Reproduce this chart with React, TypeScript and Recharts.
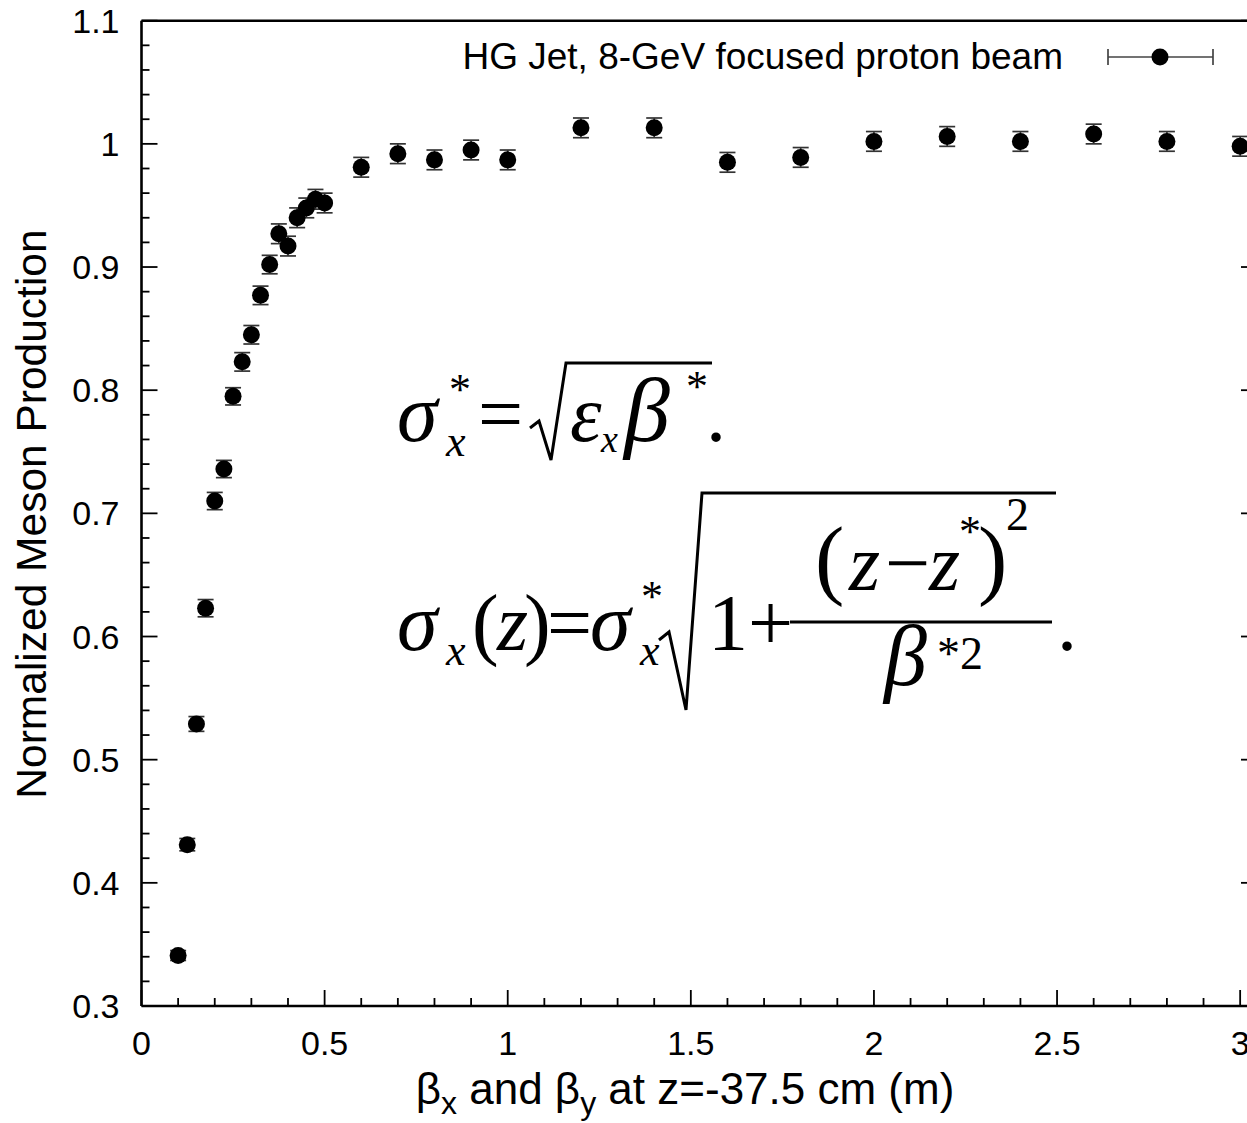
import { ScatterChart, Scatter, XAxis, YAxis, ErrorBar } from 'recharts'

// beta (m) at z = -37.5 cm
const betaValues = [
  0.1, 0.125, 0.15, 0.175, 0.2, 0.225, 0.25, 0.275, 0.3, 0.325, 0.35, 0.375, 0.4, 0.425, 0.45, 0.475, 0.5,
  0.6, 0.7, 0.8, 0.9, 1.0,
  1.2, 1.4, 1.6, 1.8, 2.0, 2.2, 2.4, 2.6, 2.8, 3.0,
]
const mesonYield = [
  0.341, 0.431, 0.529, 0.623, 0.71, 0.736, 0.795, 0.823, 0.845, 0.877, 0.902, 0.927, 0.917, 0.94, 0.948, 0.955, 0.952,
  0.981, 0.992, 0.987, 0.995, 0.987,
  1.013, 1.013, 0.985, 0.989, 1.002, 1.006, 1.002, 1.008, 1.002, 0.998,
]
const yieldErr = [
  0.004, 0.005, 0.006, 0.007, 0.007, 0.007, 0.007, 0.0075, 0.0075, 0.0075, 0.0075, 0.008, 0.008, 0.008, 0.008, 0.008, 0.008,
  0.008, 0.008, 0.008, 0.008, 0.008,
  0.008, 0.008, 0.008, 0.008, 0.008, 0.008, 0.008, 0.008, 0.008, 0.008,
]

const xMajor = [0, 0.5, 1, 1.5, 2, 2.5, 3]
const yMajor = [0.3, 0.4, 0.5, 0.6, 0.7, 0.8, 0.9, 1, 1.1]
const xLabels = ['0', '0.5', '1', '1.5', '2', '2.5', '3']
const yLabels = ['0.3', '0.4', '0.5', '0.6', '0.7', '0.8', '0.9', '1', '1.1']
const legendText = 'HG Jet, 8-GeV focused proton beam'

const SUB = 5
const withMinor = (major: number[]) => {
  const out: number[] = []
  major.forEach((v, i) => {
    out.push(v)
    if (i < major.length - 1) {
      const step = (major[i + 1] - v) / SUB
      for (let k = 1; k < SUB; k++) out.push(+(v + step * k).toFixed(4))
    }
  })
  return out
}
const xTicks = withMinor(xMajor)
const yTicks = withMinor(yMajor)

const data = betaValues.map((b, i) => ({ beta: b, y: mesonYield[i], err: yieldErr[i] }))

const SANS = '"Liberation Sans", Arial, Helvetica, sans-serif'
const SERIF = '"Liberation Serif", "Times New Roman", serif'
const MAJ = 16
const MIN = 8
const TK = 1.8

// plot box
const PL = 141.5
const PT = 20.7
const PB = 1006
const PR = 1257

const majorIdx = (list: number[], v: number) => list.findIndex((m) => Math.abs(m - v) < 1e-6)

const BottomTick = (p: any) => {
  const i = majorIdx(xMajor, p.payload.value)
  return (
    <g>
      <line x1={p.x} x2={p.x} y1={PB} y2={PB - (i >= 0 ? MAJ : MIN)} stroke="#000" strokeWidth={TK} />
      {i >= 0 && (
        <text x={p.x} y={PB + 49} textAnchor="middle" fontSize={34} fontFamily={SANS} fill="#000">
          {xLabels[i]}
        </text>
      )}
    </g>
  )
}
const TopTick = (p: any) => {
  const i = majorIdx(xMajor, p.payload.value)
  return <line x1={p.x} x2={p.x} y1={PT} y2={PT + (i >= 0 ? MAJ : MIN)} stroke="#000" strokeWidth={TK} />
}
const LeftTick = (p: any) => {
  const i = majorIdx(yMajor, p.payload.value)
  return (
    <g>
      <line x1={PL} x2={PL + (i >= 0 ? MAJ : MIN)} y1={p.y} y2={p.y} stroke="#000" strokeWidth={TK} />
      {i >= 0 && (
        <text x={PL - 22} y={p.y + 12} textAnchor="end" fontSize={34} fontFamily={SANS} fill="#000">
          {yLabels[i]}
        </text>
      )}
    </g>
  )
}
const RightTick = (p: any) => {
  const i = majorIdx(yMajor, p.payload.value)
  return <line x1={PR} x2={PR - (i >= 0 ? MAJ : MIN)} y1={p.y} y2={p.y} stroke="#000" strokeWidth={TK} />
}

const Dot = (p: any) => <circle cx={p.cx} cy={p.cy} r={8.5} fill="#000" />

const T = ({ x, y, s, it, f = SERIF, children }: any) => (
  <text x={x} y={y} fontSize={s} fontStyle={it ? 'italic' : 'normal'} fontFamily={f} fill="#000">
    {children}
  </text>
)

function Formulas() {
  return (
    <g>
      {/* sigma_x^* = sqrt(eps_x beta^*) */}
      <T x={397} y={441} s={82} it>σ</T>
      <T x={449} y={404} s={44}>*</T>
      <T x={446} y={456} s={44} it>x</T>
      <T x={478} y={441} s={80}>=</T>
      <path d="M530 428 L539 421 L551 460 L566 363 L712 363" fill="none" stroke="#000" strokeWidth={3} />
      <T x={570} y={441} s={80} it>ε</T>
      <T x={601} y={452} s={38} it>x</T>
      <T x={624} y={441} s={92} it>β</T>
      <T x={686} y={401} s={44}>*</T>
      <T x={706} y={441} s={80}>.</T>

      {/* sigma_x(z) = sigma_x^* sqrt(1 + (z - z^*)^2 / beta^*2) */}
      <T x={397} y={650} s={82} it>σ</T>
      <T x={446} y={665} s={44} it>x</T>
      <T x={472} y={650} s={80}>(</T>
      <T x={497} y={650} s={80} it>z</T>
      <T x={524} y={650} s={80}>)</T>
      <T x={547} y={650} s={80}>=</T>
      <T x={590} y={650} s={82} it>σ</T>
      <T x={641} y={611} s={44}>*</T>
      <T x={640} y={665} s={44} it>x</T>
      <path d="M659 640 L669 632 L686 710 L702 493 L1056 493" fill="none" stroke="#000" strokeWidth={3} />
      <T x={708} y={650} s={80}>1</T>
      <T x={748} y={650} s={80}>+</T>
      <line x1={790} x2={1052} y1={622} y2={622} stroke="#000" strokeWidth={3} />
      <T x={815} y={588} s={88}>(</T>
      <T x={849} y={590} s={80} it>z</T>
      <T x={885} y={590} s={80}>−</T>
      <T x={929} y={590} s={80} it>z</T>
      <T x={959} y={546} s={44}>*</T>
      <T x={978} y={588} s={88}>)</T>
      <T x={1006} y={530} s={46}>2</T>
      <T x={884} y={685} s={86} it>β</T>
      <T x={937} y={669} s={46}>*2</T>
      <T x={1057} y={650} s={80}>.</T>
    </g>
  )
}

const axisLine = { stroke: '#000', strokeWidth: 2.6 }

export default function App() {
  return (
    <div style={{ position: 'absolute', left: 0, top: 0, width: 1247, height: 1123, overflow: 'hidden', background: '#fff' }}>
      <ScatterChart width={1265} height={1123} margin={{ top: 19.7, right: 7, bottom: 116, left: 140.5 }}>
        <XAxis
          xAxisId="b"
          type="number"
          dataKey="beta"
          orientation="bottom"
          domain={[0, 3.046]}
          ticks={xTicks}
          interval={0}
          height={1}
          tickSize={0}
          tickMargin={0}
          tickLine={false}
          tick={BottomTick}
          axisLine={axisLine}
          allowDataOverflow
        />
        <XAxis
          xAxisId="t"
          type="number"
          orientation="top"
          domain={[0, 3.046]}
          ticks={xTicks}
          interval={0}
          height={1}
          tickSize={0}
          tickMargin={0}
          tickLine={false}
          tick={TopTick}
          axisLine={axisLine}
          allowDataOverflow
        />
        <YAxis
          yAxisId="l"
          type="number"
          dataKey="y"
          orientation="left"
          domain={[0.3, 1.1]}
          ticks={yTicks}
          interval={0}
          width={1}
          tickSize={0}
          tickMargin={0}
          tickLine={false}
          tick={LeftTick}
          axisLine={axisLine}
          allowDataOverflow
        />
        <YAxis
          yAxisId="r"
          type="number"
          orientation="right"
          domain={[0.3, 1.1]}
          ticks={yTicks}
          interval={0}
          width={1}
          tickSize={0}
          tickMargin={0}
          tickLine={false}
          tick={RightTick}
          axisLine={axisLine}
          allowDataOverflow
        />
        <Scatter data={data} xAxisId="b" yAxisId="l" shape={Dot} isAnimationActive={false}>
          <ErrorBar dataKey="err" direction="y" width={8} stroke="#333" strokeWidth={1.7} />
        </Scatter>
      </ScatterChart>
      <svg width={1247} height={1123} style={{ position: 'absolute', left: 0, top: 0, pointerEvents: 'none' }}>
        <text x={1063} y={69} textAnchor="end" fontSize={37} fontFamily={SANS} fill="#000">
          {legendText}
        </text>
        <line x1={1108} x2={1213} y1={57} y2={57} stroke="#444" strokeWidth={1.7} />
        <line x1={1108} x2={1108} y1={49} y2={65} stroke="#444" strokeWidth={1.7} />
        <line x1={1213} x2={1213} y1={49} y2={65} stroke="#444" strokeWidth={1.7} />
        <circle cx={1160} cy={57} r={8.5} fill="#000" />
        <text x={685} y={1104} textAnchor="middle" fontSize={44} fontFamily={SANS} fill="#000">
          β<tspan dy={10} fontSize={32}>x</tspan>
          <tspan dy={-10}> and β</tspan>
          <tspan dy={10} fontSize={32}>y</tspan>
          <tspan dy={-10}> at z=-37.5 cm (m)</tspan>
        </text>
        <text
          x={46}
          y={514}
          transform="rotate(-90 46 514)"
          textAnchor="middle"
          fontSize={42.5}
          fontFamily={SANS}
          fill="#000"
        >
          Normalized Meson Production
        </text>
        <Formulas />
      </svg>
    </div>
  )
}
